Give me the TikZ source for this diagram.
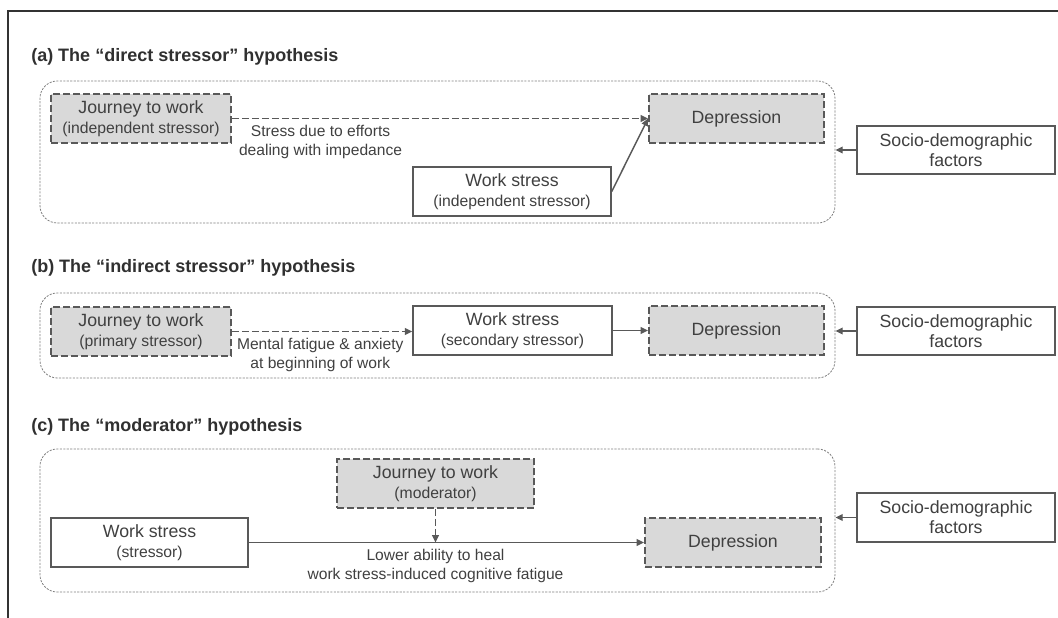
\documentclass[tikz,border=0pt]{standalone}
\usepackage{fontspec}
\setmainfont{Liberation Sans}
\usetikzlibrary{arrows.meta}
\definecolor{txt}{HTML}{404040}
\definecolor{ttl}{HTML}{303030}
\definecolor{bordc}{HTML}{595959}
\definecolor{grayf}{HTML}{D9D9D9}
\definecolor{grpc}{HTML}{7F7F7F}
\definecolor{framec}{HTML}{333333}
\newcommand\mainf{\fontsize{13.3}{14.8}\selectfont}
\newcommand\subf{\fontsize{11.8}{14.5}\selectfont}
\newcommand\labf{\fontsize{11.7}{14.5}\selectfont}
\newcommand\ttlf{\fontsize{13.5}{16}\selectfont\bfseries}
\tikzset{
  sbox/.style={draw=bordc, line width=1.1pt, fill=white, text=txt, align=center,
    inner sep=0pt, font=\mainf, minimum height=36.75pt},
  dbox/.style={sbox, fill=grayf, line width=1.4pt, dash pattern=on 5pt off 2.5pt},
  grp/.style={draw=grpc, line width=0.6pt, dash pattern=on 1.6pt off 1pt,
    rounded corners=13pt, inner sep=0pt, minimum width=596.25pt},
  arr/.style={draw=bordc, line width=1.1pt, -{Triangle[length=5.5pt,width=5pt]}},
  darr/.style={arr, dash pattern=on 5pt off 2.5pt},
  lab/.style={text=txt, font=\labf, align=center, inner sep=0pt},
  ttlnode/.style={text=ttl, font=\ttlf, anchor=west, inner sep=0pt},
}
\begin{document}
\begin{tikzpicture}[x=0.75pt, y=-0.75pt]
\useasboundingbox (0,0) rectangle (1058,618);
% frame
\coordinate (ftr) at (1058,11);
\coordinate (ftl) at (8,11);
\coordinate (fbl) at (8,618);
\draw[framec, line width=1.4pt] (ftr) -- (ftl) -- (fbl);

% ---------- (a)
\node[ttlnode] (ta) at (31,57) {(a) The “direct stressor” hypothesis};
\node[grp, minimum height=106.5pt] (ga) at (437.5,152) {};
\node[dbox, minimum width=135pt] (ja) at (141,118.5)
  {Journey to work\\{\subf (independent stressor)}};
\node[dbox, minimum width=131.25pt] (da) at (736.5,118.5) {Depression};
\node[sbox, minimum width=148.5pt] (wa) at (512,191.5)
  {Work stress\\{\subf (independent stressor)}};
\node[sbox, minimum width=148.5pt, minimum height=36pt] (sa) at (956,150)
  {Socio-demographic\\factors};
\draw[darr] (ja.east) -- node[lab, pos=0.213, anchor=north, yshift=-4.5pt] (la)
  {Stress due to efforts\\dealing with impedance} (da.west);
\draw[arr] (wa.east) -- (da.west);
\draw[arr] (sa.west) -- (sa.west -| ga.east);

% ---------- (b)
\node[ttlnode] (tb) at (31,268) {(b) The “indirect stressor” hypothesis};
\node[grp, minimum height=63.75pt] (gb) at (437.5,335.5) {};
\node[dbox, minimum width=135pt] (jb) at (141,331.5)
  {Journey to work\\{\subf (primary stressor)}};
\node[sbox, minimum width=149.25pt] (wb) at (512.5,330.5)
  {Work stress\\{\subf (secondary stressor)}};
\node[dbox, minimum width=131.25pt] (db) at (736.5,330.5) {Depression};
\node[sbox, minimum width=148.5pt, minimum height=36pt] (sb) at (956,331)
  {Socio-demographic\\factors};
\draw[darr] (jb.east) -- node[lab, pos=0.49, anchor=north, yshift=-4.5pt] (lb)
  {Mental fatigue \& anxiety\\at beginning of work} (jb.east -| wb.west);
\draw[arr] (wb.east) -- (db.west);
\draw[arr] (sb.west) -- (sb.west -| gb.east);

% ---------- (c)
\node[ttlnode] (tc) at (31,427) {(c) The “moderator” hypothesis};
\node[grp, minimum height=107.25pt] (gc) at (437.5,520.5) {};
\node[dbox, minimum width=147.75pt] (jc) at (435.5,483.5)
  {Journey to work\\{\subf (moderator)}};
\node[sbox, minimum width=147.75pt] (wc) at (149.5,542.5)
  {Work stress\\{\subf (stressor)}};
\node[dbox, minimum width=132pt] (dc) at (733,542.5) {Depression};
\node[sbox, minimum width=148.5pt] (sc) at (956,517.5)
  {Socio-demographic\\factors};
\coordinate (jn) at (jc.south |- wc.east);
\draw[arr] (wc.east) -- (dc.west);
\draw[darr] (jc.south) -- (jn);
\node[lab, anchor=north, yshift=-4.5pt] (lc) at (jn)
  {Lower ability to heal\\work stress-induced cognitive fatigue};
\draw[arr] (sc.west) -- (sc.west -| gc.east);
\end{tikzpicture}
\end{document}
